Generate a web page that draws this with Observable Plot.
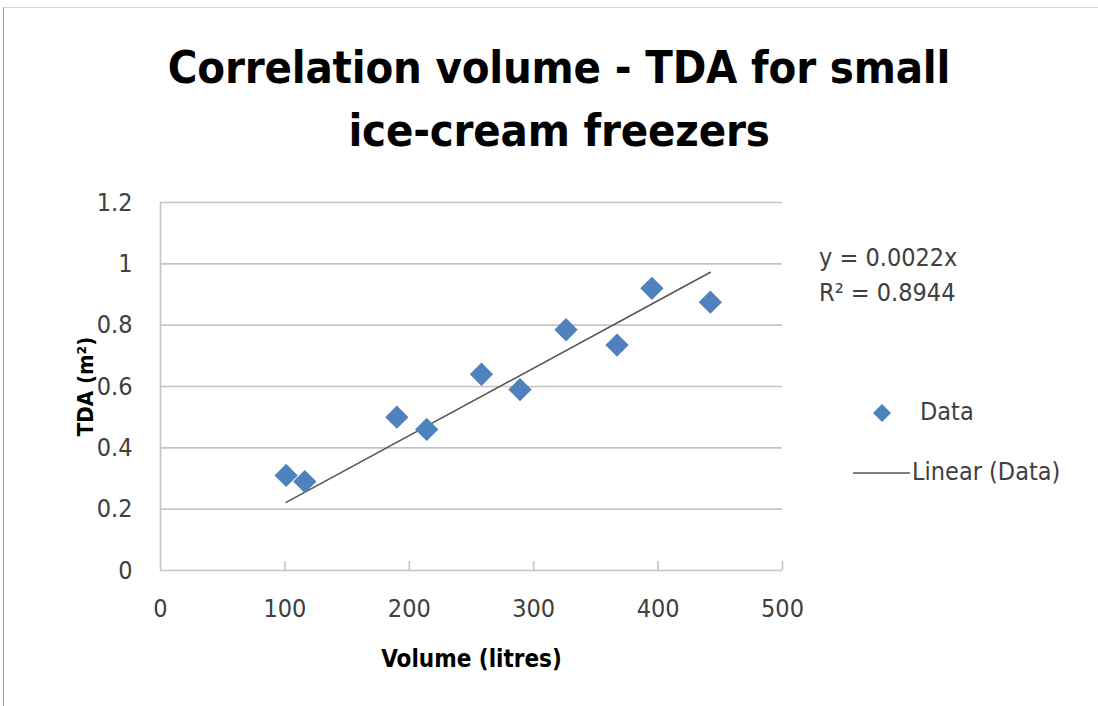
<!DOCTYPE html>
<html>
<head>
<meta charset="utf-8">
<script src="https://cdn.jsdelivr.net/npm/d3@7"></script>
<script src="https://cdn.jsdelivr.net/npm/@observablehq/plot@0.6"></script>
<style>
  html, body { margin: 0; padding: 0; background: #fff; }
  #wrap { position: relative; width: 1098px; height: 706px; overflow: hidden; background: #fff;
          font-family: "DejaVu Sans Condensed", "Liberation Sans", sans-serif; }
  #border { position: absolute; left: 3px; top: 7px; right: 0; bottom: 0;
            border-left: 1.5px solid #9a9a9a; border-top: 1.5px solid #d8d8d8; }
  #title { position: absolute; left: 0; width: 1118px; top: 36px; text-align: center;
           font-size: 45px; font-weight: bold; line-height: 63px; color: #000; letter-spacing: -0.2px; }
  #eq { position: absolute; left: 819px; top: 240px; font-size: 25px; line-height: 35px; color: #404040; white-space: nowrap; }
  #legend { position: absolute; left: 852px; top: 397px; font-size: 25px; color: #404040; white-space: nowrap; }
  .lrow { position: relative; height: 60px; }
  .lrow span.t { position: absolute; top: 0px; }
  #chart { position: absolute; left: 0; top: 0; }
  #chart svg text { font-family: "DejaVu Sans Condensed", "Liberation Sans", sans-serif; }
</style>
</head>
<body>
<div id="wrap">
  <div id="border"></div>
  <div id="chart"></div>
  <div id="title">Correlation volume - TDA for small<br>ice-cream freezers</div>
  <div id="eq"></div>
  <div id="legend"></div>
</div>
<script>
// ---- data ----
const volume = [101, 116, 190, 214, 258, 289, 326, 367, 395, 442];
const tda    = [0.31, 0.29, 0.50, 0.46, 0.64, 0.59, 0.785, 0.735, 0.92, 0.875];
const slope = 0.0022;
const rSquared = 0.8944;
const xTicks = [0, 100, 200, 300, 400, 500];
const xTickLabels = ["0", "100", "200", "300", "400", "500"];
const yTicks = [0, 0.2, 0.4, 0.6, 0.8, 1, 1.2];
const yTickLabels = ["0", "0.2", "0.4", "0.6", "0.8", "1", "1.2"];
const seriesName = "Data";
const trendName = "Linear (Data)";

const points = volume.map((v, i) => ({volume: v, tda: tda[i]}));
const xMin = d3.min(volume), xMax = d3.max(volume);
const trend = [xMin, xMax].map(v => ({volume: v, tda: slope * v}));

const blue = "#4F81BD";
const grid = "#c4c4c4";
const labelColor = "#404040";

const chart = Plot.plot({
  width: 1098,
  height: 706,
  marginLeft: 160,
  marginRight: 316,
  marginTop: 202,
  marginBottom: 136,
  style: {background: "transparent", fontSize: "25px", color: labelColor},
  x: {domain: [0, 500], ticks: xTicks},
  y: {domain: [0, 1.2], ticks: yTicks},
  marks: [
    Plot.gridY(yTicks.filter(d => d > 0), {stroke: grid, strokeOpacity: 1, strokeWidth: 1.6}),
    Plot.ruleY([0], {stroke: grid, strokeWidth: 1.6}),
    Plot.ruleX([0], {stroke: grid, strokeWidth: 1.6}),
    Plot.axisX(xTicks.filter(d => d > 0), {tickSize: -9, tickFormat: () => "", stroke: grid, strokeWidth: 1.6, label: null}),
    Plot.axisX(xTicks, {tickSize: 0, tickPadding: 29, tickFormat: (d, i) => xTickLabels[i], fill: labelColor, fontSize: 25,
      label: "Volume (litres)", labelAnchor: "center", labelOffset: 96, labelArrow: "none"}),
    Plot.axisY(yTicks, {tickSize: 0, tickPadding: 28, tickFormat: (d, i) => yTickLabels[i], fill: labelColor, fontSize: 25,
      label: "TDA (m²)", labelAnchor: "center", labelOffset: 83, labelArrow: "none"}),
    Plot.line(trend, {x: "volume", y: "tda", stroke: "#555", strokeWidth: 1.6}),
    Plot.dot(points, {x: "volume", y: "tda", symbol: "diamond2", r: 10.5, fill: blue, stroke: "none"})
  ]
});

// style axis titles bold
chart.querySelectorAll("g[aria-label='x-axis label'] text").forEach(t => {
  t.setAttribute("font-weight", "bold");
  t.setAttribute("fill", "#000");
  t.setAttribute("font-size", "24");
});
chart.querySelectorAll("g[aria-label='y-axis label'] text").forEach(t => {
  t.setAttribute("font-weight", "bold");
  t.setAttribute("fill", "#000");
  t.setAttribute("font-size", "22");
});
document.getElementById("chart").appendChild(chart);

document.getElementById("eq").innerHTML =
  `y = ${slope}x<br>R² = ${rSquared}`;

document.getElementById("legend").innerHTML =
  `<div class="lrow"><svg width="60" height="34" style="position:absolute;left:0;top:0px">
     <path d="M30,7 L39,16 L30,25 L21,16 Z" fill="${blue}"/></svg>
     <span class="t" style="left:68px">${seriesName}</span></div>
   <div class="lrow"><svg width="60" height="34" style="position:absolute;left:0;top:0px">
     <line x1="1" y1="16" x2="58" y2="16" stroke="#555" stroke-width="1.6"/></svg>
     <span class="t" style="left:60px">${trendName}</span></div>`;
</script>
</body>
</html>
